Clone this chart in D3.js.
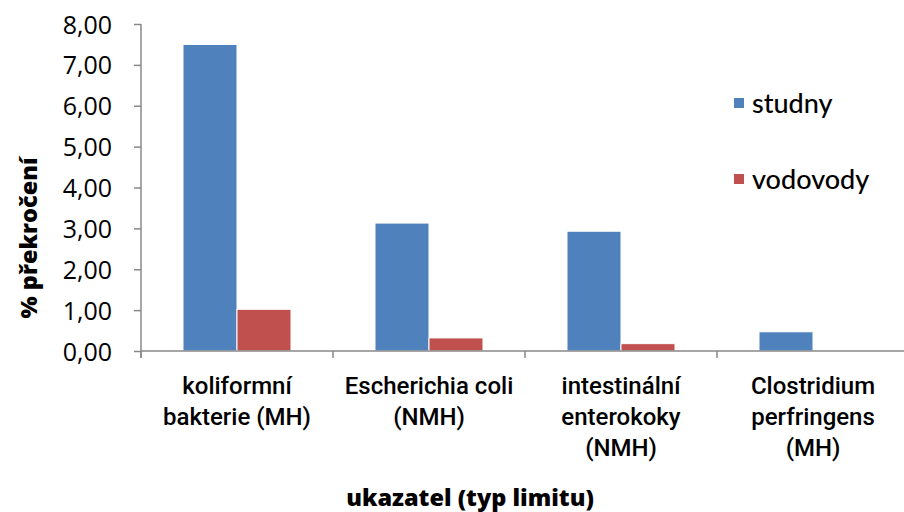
<!DOCTYPE html>
<html><head><meta charset="utf-8">
<script src="https://cdn.jsdelivr.net/npm/d3@7"></script>
<style>body{margin:0;background:#fff}svg{display:block}</style>
</head><body>
<svg id="c" width="904" height="512"></svg>
<script>
const categories = [
  ["koliformní", "bakterie (MH)"],
  ["Escherichia coli", "(NMH)"],
  ["intestinální", "enterokoky", "(NMH)"],
  ["Clostridium", "perfringens", "(MH)"]
];
const seriesNames = ["studny", "vodovody"];
const studny = [7.50, 3.13, 2.93, 0.47];
const vodovody = [1.02, 0.32, 0.18, 0];
const yTicks = [0, 1, 2, 3, 4, 5, 6, 7, 8];
const colors = ["#4F81BD", "#C0504D"];
const yTitle = "% překročení";
const xTitle = "ukazatel (typ limitu)";

(function () {
const svg = d3.select("#c");
const pl = 141, pr = 909, pt = 24, pb = 351;
const idx = categories.map((d, i) => i);
const x0 = d3.scaleBand().domain(idx).range([pl, pr]).paddingInner(0).paddingOuter(0);
const x1 = d3.scaleBand().domain(seriesNames).range([0, x0.bandwidth()]).paddingInner(0).paddingOuter(0.778);
const y = d3.scaleLinear().domain([0, 8]).range([pb, pt]);
const values = [studny, vodovody];
const font = "'Open Sans', 'Noto Sans', sans-serif";

// bars
seriesNames.forEach((s, si) => {
  svg.append("g").selectAll("rect").data(idx).join("rect")
    .attr("x", i => x0(i) + x1(s))
    .attr("y", i => y(values[si][i]))
    .attr("width", x1.bandwidth())
    .attr("height", i => pb - y(values[si][i]))
    .attr("fill", colors[si])
    .attr("stroke", "#fff").attr("stroke-width", 1);
});

// y axis
const yAxis = svg.append("g").attr("transform", `translate(${pl},0)`)
  .call(d3.axisLeft(y).tickValues(yTicks).tickSize(7).tickPadding(22)
    .tickFormat(d => d3.format(".2f")(d).replace(".", ",")));
yAxis.select(".domain").attr("stroke", "#898989").attr("stroke-width", 1.5)
  .attr("d", `M0,${pt}V${pb + 7}`);
yAxis.selectAll(".tick line").attr("stroke", "#898989").attr("stroke-width", 1.5);
yAxis.selectAll("text").attr("font-family", font).attr("font-size", 25).attr("font-weight", 500)
  .attr("fill", "#000").attr("dy", "0.36em");

// x axis
const xg = svg.append("g").attr("transform", `translate(0,${pb})`);
xg.append("line").attr("x1", pl).attr("x2", pr).attr("y1", 0).attr("y2", 0)
  .attr("stroke", "#898989").attr("stroke-width", 1.5);
xg.selectAll("line.t").data(idx.concat([idx.length])).join("line").attr("class", "t")
  .attr("x1", i => i < idx.length ? x0(i) : pr).attr("x2", i => i < idx.length ? x0(i) : pr)
  .attr("y1", 0).attr("y2", 7).attr("stroke", "#898989").attr("stroke-width", 1.5);

// category labels
const cl = svg.append("g");
categories.forEach((lines, i) => {
  const t = cl.append("text").attr("text-anchor", "middle")
    .attr("font-family", "Roboto, sans-serif").attr("font-size", 24).attr("font-weight", 500).attr("fill", "#000");
  lines.forEach((ln, j) => {
    t.append("tspan").attr("x", x0(i) + x0.bandwidth() / 2).attr("y", 394 + j * 31).text(ln);
  });
});

// titles
svg.append("text").attr("x", 470).attr("y", 506).attr("text-anchor", "middle")
  .attr("font-family", font).attr("font-weight", 800).attr("font-size", 23.5).text(xTitle);
svg.append("text").attr("transform", "translate(37,238) rotate(-90)").attr("text-anchor", "middle")
  .attr("font-family", font).attr("font-weight", 800).attr("font-size", 23.5).text(yTitle);

// legend
const lg = svg.append("g");
seriesNames.forEach((s, i) => {
  const yy = 103 + i * 76;
  lg.append("rect").attr("x", 734).attr("y", yy - 5).attr("width", 10).attr("height", 10).attr("fill", colors[i]);
  lg.append("text").attr("x", 752).attr("y", yy + 10).attr("font-family", "Lato, sans-serif")
    .attr("font-size", 27).attr("font-weight", 500).attr("fill", "#000").text(s);
});
})();
</script>
</body></html>
